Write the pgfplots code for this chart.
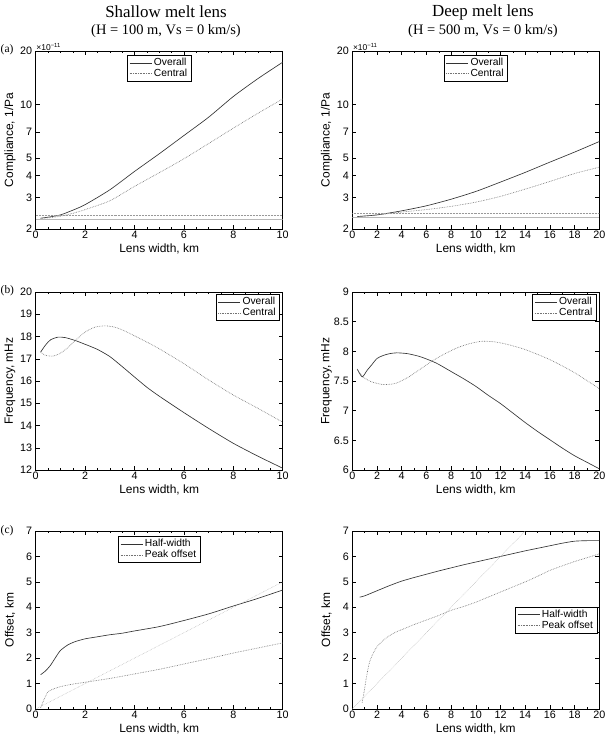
\documentclass[border=0pt]{standalone}
\usepackage{fontspec}
\setmainfont{Liberation Sans}
\newfontfamily\tnr{Liberation Serif}
\usepackage{pgfplots}
\pgfplotsset{compat=1.18}
\pgfplotsset{
  base/.style={
    width=247bp, height=178bp, scale only axis,
    anchor=north west,
    axis line style={black, line width=0.6bp},
    tick align=inside,
    major tick length=4bp, minor tick length=2.3bp,
    every tick/.style={black, line width=0.5bp},
    tick label style={font=\fontsize{10.8}{12}\selectfont},
    xticklabel style={inner sep=2bp},
    /pgf/number format/assume math mode=true,
    label style={font=\fontsize{12}{14}\selectfont},
    xlabel={Lens width, km},
    xlabel style={at={(axis description cs:0.5,-0.112)}, anchor=center},
    ylabel style={at={(axis description cs:-0.104,0.5)}, anchor=center},
    legend style={font=\fontsize{10.3}{12}\selectfont, draw=black, line width=0.6bp, fill=white, inner xsep=2bp, inner ysep=1.2bp, row sep=-2bp},
    legend cell align=left,
    legend image code/.code={\draw[##1] (0bp,0bp) -- (22bp,0bp);},
  },
  lft/.style={base, xmin=0, xmax=10, xtick={0,2,...,10}, minor x tick num=3},
  rgt/.style={base, xmin=0, xmax=20, xtick={0,2,...,20}, minor x tick num=1},
  ov/.style={black!80, line width=0.65bp, smooth, tension=0.4},
  ce/.style={black!55, line width=0.65bp, densely dotted, smooth, tension=0.4},
  refs/.style={black!28, line width=0.5bp},
  refd/.style={black!40, line width=0.5bp, densely dotted},
}
\begin{document}
\begin{tikzpicture}
\path[use as bounding box] (0,0) rectangle (609bp,-740bp);
% titles
\node[font=\tnr\fontsize{17}{19}\selectfont] at (166bp,-12bp) {Shallow melt lens};
\node[font=\tnr\fontsize{14.5}{16}\selectfont] at (166bp,-31bp) {(H = 100 m, Vs = 0 km/s)};
\node[font=\tnr\fontsize{17}{19}\selectfont] at (483bp,-12bp) {Deep melt lens};
\node[font=\tnr\fontsize{14.5}{16}\selectfont] at (483bp,-31bp) {(H = 500 m, Vs = 0 km/s)};
\node[font=\tnr\fontsize{11.5}{14}\selectfont, anchor=west, inner sep=0pt] at (0.5bp,-50bp) {(a)};
\node[font=\tnr\fontsize{11.5}{14}\selectfont, anchor=west, inner sep=0pt] at (0.5bp,-291bp) {(b)};
\node[font=\tnr\fontsize{11.5}{14}\selectfont, anchor=west, inner sep=0pt] at (0.5bp,-531bp) {(c)};

% (a) left
\begin{axis}[lft, ymode=log, ymin=2, ymax=20, ytick={2,3,4,5,7,10,20}, yticklabels={2,3,4,5,7,10,20}, ylabel={Compliance, 1/Pa},
  at={(35.7bp,-51bp)},
  legend style={at={(0.5,0.978)}, anchor=north}]
\addplot[ov] coordinates {(0.2,2.30) (0.5,2.33) (1,2.40) (1.5,2.55) (2,2.74) (3,3.32) (4,4.21) (5,5.29) (6,6.70) (7,8.49) (8,11.1) (9,14.0) (10,17.3)};
\addlegendentry{Overall}
\addplot[ce] coordinates {(0.2,2.30) (0.5,2.31) (1,2.36) (1.5,2.45) (2,2.57) (3,2.88) (4,3.47) (5,4.14) (6,4.96) (7,6.04) (8,7.37) (9,8.94) (10,10.76)};
\addlegendentry{Central}
\addplot[refs, forget plot] coordinates {(0,2.28) (10,2.28)};
\addplot[refd, forget plot] coordinates {(0,2.40) (10,2.40)};
\end{axis}
\node[anchor=south west, inner sep=0.5bp, font=\fontsize{8.5}{9}\selectfont] at (35.7bp,-51bp) {×10\textsuperscript{−11}};

% (a) right
\begin{axis}[rgt, ymode=log, ymin=2, ymax=20, ytick={2,3,4,5,7,10,20}, yticklabels={2,3,4,5,7,10,20}, ylabel={Compliance, 1/Pa},
  at={(352.3bp,-51bp)},
  legend style={at={(0.5,0.978)}, anchor=north}]
\addplot[ov] coordinates {(0.4,2.35) (2,2.40) (4,2.53) (6,2.70) (8,2.94) (10,3.25) (12,3.67) (14,4.16) (16,4.75) (18,5.41) (20,6.20)};
\addlegendentry{Overall}
\addplot[ce] coordinates {(0.4,2.35) (2,2.40) (4,2.49) (6,2.57) (8,2.68) (10,2.83) (12,3.05) (14,3.35) (16,3.70) (18,4.10) (20,4.45)};
\addlegendentry{Central}
\addplot[refs, forget plot] coordinates {(0,2.33) (20,2.33)};
\addplot[refd, forget plot] coordinates {(0,2.45) (20,2.45)};
\end{axis}
\node[anchor=south west, inner sep=0.5bp, font=\fontsize{8.5}{9}\selectfont] at (352.3bp,-51bp) {×10\textsuperscript{−11}};

% (b) left
\begin{axis}[lft, at={(35.7bp,-292bp)}, ymin=12, ymax=20, ytick={12,...,20},
  ylabel={Frequency, mHz},
  legend style={at={(0.989,0.989)}, anchor=north east}]
\addplot[ov] coordinates {(0.2,17.3) (0.4,17.62) (0.6,17.85) (0.9,17.97) (1.2,17.95) (1.6,17.82) (2,17.65) (2.5,17.42) (3,17.1) (3.5,16.65) (4,16.18) (4.5,15.72) (5,15.32) (6,14.58) (7,13.87) (8,13.2) (9,12.62) (10,12.08)};
\addlegendentry{Overall}
\addplot[ce] coordinates {(0.2,17.3) (0.4,17.15) (0.7,17.12) (1.0,17.25) (1.3,17.5) (1.6,17.82) (2,18.2) (2.4,18.42) (2.8,18.48) (3.2,18.42) (3.6,18.25) (4,18.03) (4.5,17.75) (5,17.45) (6,16.78) (7,16.05) (8,15.37) (9,14.77) (10,14.15)};
\addlegendentry{Central}
\end{axis}

% (b) right
\begin{axis}[rgt, at={(352.3bp,-292bp)}, ymin=6, ymax=9, ytick={6,6.5,...,9},
  ylabel={Frequency, mHz},
  legend style={at={(0.989,0.989)}, anchor=north east}]
\addplot[ov] coordinates {(0.4,7.70) (0.8,7.57) (1.2,7.68) (1.6,7.78) (2,7.88) (2.5,7.93) (3,7.96) (3.6,7.975) (4.5,7.96) (5.5,7.91) (6.5,7.83) (7,7.78) (8,7.66) (9,7.54) (10,7.41) (11,7.26) (12,7.12) (13,6.96) (14,6.80) (15,6.65) (16,6.51) (17,6.37) (18,6.24) (19,6.13) (20,6.02)};
\addlegendentry{Overall}
\addplot[ce] coordinates {(0.4,7.70) (0.8,7.58) (1.5,7.49) (2.5,7.44) (3.5,7.46) (4.5,7.56) (5.5,7.70) (6.5,7.84) (7.5,7.96) (8.5,8.06) (9.5,8.13) (10.5,8.17) (11.5,8.16) (12.5,8.12) (14,8.03) (16,7.86) (18,7.64) (20,7.37)};
\addlegendentry{Central}
\end{axis}

% (c) left
\begin{axis}[lft, at={(35.7bp,-531bp)}, ymin=0, ymax=7, ytick={0,...,7},
  ylabel={Offset, km},
  legend style={at={(0.5,0.972)}, anchor=north}]
\addplot[ov] coordinates {(0.2,1.35) (0.4,1.5) (0.6,1.72) (0.8,2.02) (1,2.3) (1.3,2.52) (1.6,2.65) (2,2.76) (2.5,2.84) (3,2.92) (3.5,2.98) (4,3.07) (5,3.24) (6,3.48) (7,3.74) (8,4.05) (9,4.35) (10,4.68)};
\addlegendentry{Half-width}
\addplot[ce] coordinates {(0.2,0.05) (0.35,0.4) (0.5,0.68) (0.75,0.8) (1,0.88) (1.5,0.98) (2,1.05) (3,1.2) (4,1.38) (5,1.56) (6,1.77) (7,1.98) (8,2.2) (9,2.4) (10,2.6)};
\addlegendentry{Peak offset}
\addplot[refd, black!32, forget plot] coordinates {(0,0) (10,5)};
\end{axis}

% (c) right
\begin{axis}[rgt, at={(352.3bp,-531bp)}, ymin=0, ymax=7, ytick={0,...,7},
  ylabel={Offset, km},
  legend style={at={(0.992,0.5)}, anchor=east}]
\addplot[ov] coordinates {(0.6,4.4) (1,4.45) (2,4.65) (3,4.85) (4,5.03) (5,5.17) (6,5.3) (7,5.43) (8,5.55) (9,5.67) (10,5.78) (11,5.89) (12,6.0) (13,6.11) (14,6.22) (15,6.32) (16,6.42) (17,6.52) (18,6.6) (19,6.62) (20,6.62)};
\addlegendentry{Half-width}
\addplot[ce] coordinates {(0.8,0.25) (1.0,0.8) (1.2,1.4) (1.4,1.85) (1.7,2.2) (2,2.45) (2.5,2.7) (3,2.88) (3.5,3.02) (4,3.12) (5,3.32) (6,3.5) (7,3.68) (8,3.88) (9,4.03) (10,4.2) (11,4.4) (12,4.6) (13,4.8) (14,5.0) (15,5.22) (16,5.45) (17,5.63) (18,5.8) (19,5.95) (20,6.1)};
\addlegendentry{Peak offset}
\addplot[refd, black!32, forget plot] coordinates {(0,0) (14,7)};
\end{axis}
\end{tikzpicture}
\end{document}
